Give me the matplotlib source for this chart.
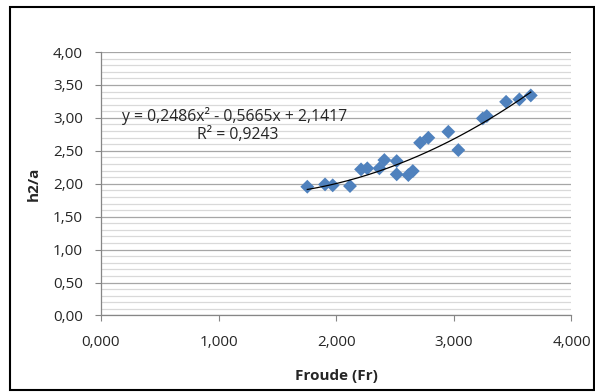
import numpy as np
import matplotlib
matplotlib.use("Agg")
import matplotlib.pyplot as plt
from matplotlib.ticker import MultipleLocator, FuncFormatter
from matplotlib.patches import Rectangle

plt.rcParams["font.family"] = ["Open Sans", "DejaVu Sans"]

# data
froude = [1.754, 1.905, 1.970, 2.117, 2.211, 2.264, 2.367, 2.409, 2.514, 2.514,
          2.613, 2.651, 2.713, 2.783, 2.953, 3.038, 3.246, 3.280, 3.444, 3.557, 3.654]
h2_a = [1.955, 1.990, 1.976, 1.965, 2.218, 2.234, 2.234, 2.360, 2.344, 2.143,
        2.132, 2.193, 2.622, 2.698, 2.789, 2.511, 2.992, 3.027, 3.244, 3.281, 3.341]

# printed trendline coefficients (a, b, c)
trend_coef = [0.2486, -0.5665, 2.1417]
r_squared = 0.9243

BLUE = "#4F81BD"
GRID_MAJOR = "#A6A6A6"
GRID_MINOR = "#D9D9D9"
TEXT = "#262626"


def comma_fmt(decimals):
    return FuncFormatter(lambda v, _: f"{v:.{decimals}f}".replace(".", ","))


fig = plt.figure(figsize=(5.95, 3.92), dpi=100, facecolor="white")
ax = fig.add_axes([0.1697, 0.1952, 0.7908, 0.6721])

ax.set_xlim(0, 4)
ax.set_ylim(0, 4)

ax.xaxis.set_major_locator(MultipleLocator(1))
ax.yaxis.set_major_locator(MultipleLocator(0.5))
ax.yaxis.set_minor_locator(MultipleLocator(0.1))
ax.xaxis.set_major_formatter(comma_fmt(3))
ax.yaxis.set_major_formatter(comma_fmt(2))

ax.grid(axis="y", which="major", color=GRID_MAJOR, linewidth=0.9)
ax.grid(axis="y", which="minor", color=GRID_MINOR, linewidth=0.9)
ax.set_axisbelow(True)

for side in ["top", "right"]:
    ax.spines[side].set_visible(False)
for side in ["left", "bottom"]:
    ax.spines[side].set_color("#868686")
    ax.spines[side].set_linewidth(0.9)

ax.tick_params(axis="both", which="major", direction="out", length=4,
               color="#868686", labelsize=11, labelcolor=TEXT)
ax.tick_params(axis="y", which="major", pad=9)
ax.tick_params(axis="x", which="major", pad=10)
ax.tick_params(axis="y", which="minor", length=0)

# trendline over the data range
xs = np.linspace(min(froude), max(froude), 200)
ys = np.polyval(trend_coef, xs)

ax.scatter(froude, h2_a, marker="D", s=50, color=BLUE, edgecolors="none", zorder=3)
ax.plot(xs, ys, color="black", linewidth=0.9, zorder=4)

eq_text = (f"y = {trend_coef[0]:.4f}x² - {abs(trend_coef[1]):.4f}x + {trend_coef[2]:.4f}"
           .replace(".", ","))
fig.text(122 / 595, 1 - 116 / 392, eq_text, fontsize=11.3, color=TEXT,
         va="center", ha="left")
fig.text(197 / 595, 1 - 135 / 392, f"R² = {r_squared:.4f}".replace(".", ","),
         fontsize=11.3, color=TEXT, va="center", ha="left")

ax.set_xlabel("Froude (Fr)", fontsize=11, fontweight="bold", color=TEXT, labelpad=14)
ax.set_ylabel("h2/a", fontsize=11, fontweight="bold", color=TEXT, labelpad=9)

# outer chart frame
fig.patches.append(Rectangle((10 / 595, 2 / 392), 584 / 595, 383.5 / 392,
                             transform=fig.transFigure, fill=False,
                             edgecolor="black", linewidth=1.5))

fig.savefig("out.png", dpi=100, facecolor="white")
